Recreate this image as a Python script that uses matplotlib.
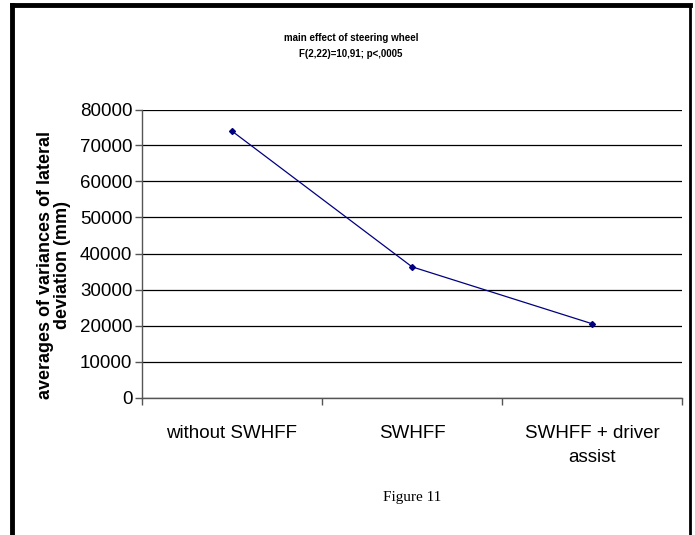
import matplotlib
matplotlib.use("Agg")
import matplotlib.pyplot as plt
from matplotlib.lines import Line2D

categories = ["without SWHFF", "SWHFF", "SWHFF + driver\nassist"]
values = [74000, 36300, 20500]
yticks = [0, 10000, 20000, 30000, 40000, 50000, 60000, 70000, 80000]
title = "main effect of steering wheel\nF(2,22)=10,91; p<,0005"
ylabel = "averages of variances of lateral\ndeviation (mm)"
caption = "Figure 11"

W, H = 695, 535
fig = plt.figure(figsize=(W / 100, H / 100), dpi=100)
fig.patch.set_facecolor("white")

def fx(px):
    return px / W

def fy(py):
    return 1 - py / H

ax = fig.add_axes([fx(142), fy(397.5), fx(682) - fx(142), fy(109.5) - fy(397.5)])
x = list(range(len(categories)))
ax.plot(x, values, color="#000080", linewidth=0.9, marker="D", markersize=3,
        markerfacecolor="#000080", markeredgecolor="#000080", zorder=3)
ax.set_xlim(-0.5, len(categories) - 0.5)
ax.set_ylim(0, 80000)
ax.set_yticks(yticks)
ax.set_yticklabels([str(v) for v in yticks], fontfamily="Liberation Sans", fontsize=13.5)
ax.yaxis.grid(True, color="black", linewidth=0.9)
ax.set_axisbelow(True)
for s in ["top", "right"]:
    ax.spines[s].set_visible(False)
for s in ["left", "bottom"]:
    ax.spines[s].set_color("#555555")
    ax.spines[s].set_linewidth(1.0)
ax.tick_params(axis="y", direction="out", length=5, width=1, color="#555555", pad=2)
ax.set_xticks([i - 0.5 for i in range(len(categories) + 1)])
ax.set_xticklabels([])
ax.tick_params(axis="x", direction="out", length=5, width=1, color="#555555")
ax.set_xticks(x, minor=True)
ax.set_xticklabels(categories, minor=True, fontfamily="Liberation Sans", fontsize=13.5,
                   linespacing=1.5)
ax.tick_params(axis="x", which="minor", length=0, pad=20)

fig.text(fx(351), fy(46), title, ha="center", va="center", fontfamily="Liberation Sans",
         fontsize=7, fontweight="bold", linespacing=1.75)
fig.text(fx(54), fy(265), ylabel, ha="center", va="center", rotation=90,
         fontfamily="Liberation Sans", fontsize=13, fontweight="bold", linespacing=0.95)
fig.text(fx(412), fy(497), caption, ha="center", va="center", fontfamily="Liberation Serif",
         fontsize=11)

# outer frame (left, top, right)
fig.add_artist(Line2D([fx(12), fx(12)], [0, fy(5)], color="black", linewidth=3.5,
                      transform=fig.transFigure))
fig.add_artist(Line2D([fx(12), fx(690)], [fy(5), fy(5)], color="black", linewidth=3.5,
                      transform=fig.transFigure))
fig.add_artist(Line2D([fx(690), fx(690)], [fy(5), 0], color="black", linewidth=2,
                      transform=fig.transFigure))

fig.savefig("out.png", dpi=100)
